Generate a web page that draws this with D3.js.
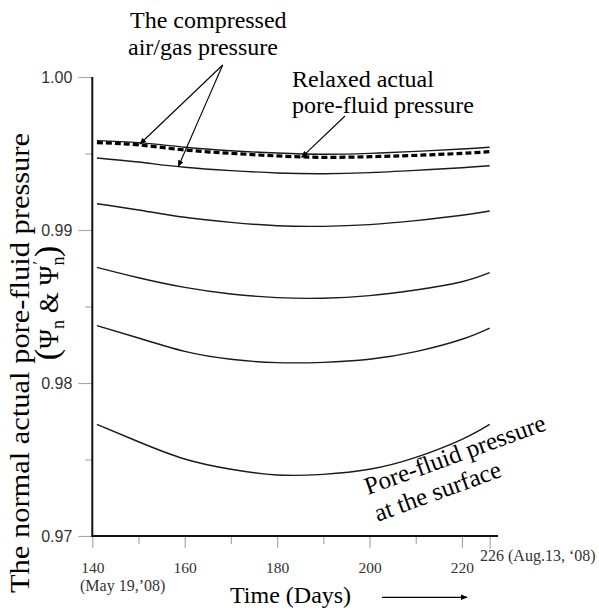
<!DOCTYPE html>
<html>
<head>
<meta charset="utf-8">
<script src="https://cdn.jsdelivr.net/npm/d3@7/dist/d3.min.js"></script>
<style>
  html, body { margin: 0; padding: 0; background: #fff; }
  svg { display: block; }
  text { font-family: "Liberation Serif", "Times New Roman", "DejaVu Serif", serif; }
  text.sans, .ysans text { font-family: "Liberation Sans", Arial, "DejaVu Sans", sans-serif; }
</style>
</head>
<body>
<svg id="chart" width="599" height="611"></svg>
<script>
// ---- data ----
const days = [141, 150, 160, 170, 180, 190, 200, 210, 220, 226];
const gasTop   = [0.99584, 0.99571, 0.99541, 0.99518, 0.99503, 0.99495, 0.99501, 0.99514, 0.99529, 0.99541];
const relaxed  = [0.99571, 0.99556, 0.99523, 0.99501, 0.99484, 0.99475, 0.99479, 0.99488, 0.99501, 0.99512];
const depth2   = [0.99471, 0.99444, 0.99410, 0.99388, 0.99373, 0.99368, 0.99375, 0.99390, 0.99407, 0.99420];
const depth3   = [0.99172, 0.99131, 0.99083, 0.99050, 0.99028, 0.99024, 0.99035, 0.99061, 0.99096, 0.99124];
const depth4   = [0.98756, 0.98688, 0.98625, 0.98582, 0.98558, 0.98554, 0.98571, 0.98608, 0.98662, 0.98721];
const depth5   = [0.98375, 0.98294, 0.98207, 0.98155, 0.98133, 0.98135, 0.98155, 0.98205, 0.98286, 0.98359];
const surface  = [0.97730, 0.97616, 0.97503, 0.97436, 0.97399, 0.97403, 0.97436, 0.97514, 0.97632, 0.97730];

const xMajorTicks = [140, 160, 180, 200, 220];
const xMinorTicks = [150, 170, 190, 210];
const xEndTick = 226;
const yMajorTicks = [0.97, 0.98, 0.99, 1.00];
const yMinorTicks = [0.975, 0.985, 0.995];

// ---- layout ----
const svg = d3.select("#chart");
const x = d3.scaleLinear().domain([140, 227.8]).range([92.3, 498]);
const y = d3.scaleLinear().domain([0.97, 1.00]).range([536, 77]);

const tickColor = "#aaa";
const labelColor = "#333";

// y axis minor ticks
const yMinor = svg.append("g").attr("transform", `translate(${x(140)},0)`)
  .call(d3.axisLeft(y).tickValues(yMinorTicks).tickSize(7).tickSizeOuter(0).tickFormat(""));
// y axis major ticks
const yMajor = svg.append("g").attr("class", "ysans").attr("transform", `translate(${x(140)},0)`)
  .call(d3.axisLeft(y).tickValues(yMajorTicks).tickSize(14).tickSizeOuter(0).tickPadding(6)
        .tickFormat(d3.format(".2f")));
[yMinor, yMajor].forEach(g => {
  g.attr("font-family", null).attr("font-size", null);
  g.select(".domain").remove();
  g.selectAll(".tick line").attr("stroke", tickColor).attr("stroke-width", 1.2);
});
yMajor.selectAll(".tick text").attr("font-size", 16).attr("fill", labelColor);

// x axis ticks
const xMinor = svg.append("g").attr("transform", `translate(0,${y(0.97)})`)
  .call(d3.axisBottom(x).tickValues(xMinorTicks).tickSize(8).tickSizeOuter(0).tickFormat(""));
const xMajor = svg.append("g").attr("transform", `translate(0,${y(0.97)})`)
  .call(d3.axisBottom(x).tickValues(xMajorTicks).tickSize(12).tickSizeOuter(0).tickPadding(14)
        .tickFormat(d3.format("d")));
const xEnd = svg.append("g").attr("transform", `translate(0,${y(0.97)})`)
  .call(d3.axisBottom(x).tickValues([xEndTick]).tickSize(13).tickSizeOuter(0).tickFormat(""));
[xMinor, xMajor, xEnd].forEach(g => {
  g.attr("font-family", null).attr("font-size", null);
  g.select(".domain").remove();
  g.selectAll(".tick line").attr("stroke", tickColor).attr("stroke-width", 1.2);
});
xMajor.selectAll(".tick text").attr("font-size", 15.5).attr("fill", labelColor);

// axis lines
svg.append("line").attr("x1", x(140)).attr("x2", x(140)).attr("y1", y(1.0)).attr("y2", y(0.97) + 1)
  .attr("stroke", "#111").attr("stroke-width", 2);
svg.append("line").attr("x1", x(140) - 1).attr("x2", x(227.8)).attr("y1", y(0.97)).attr("y2", y(0.97))
  .attr("stroke", "#111").attr("stroke-width", 2);

// ---- curves ----
const line = d3.line().x(d => x(d[0])).y(d => y(d[1])).curve(d3.curveNatural);
const zipDays = vals => days.map((d, i) => [d, vals[i]]);

[gasTop, depth2, depth3, depth4, depth5, surface].forEach(vals => {
  svg.append("path").datum(zipDays(vals)).attr("d", line)
    .attr("fill", "none").attr("stroke", "#1a1a1a").attr("stroke-width", 1.4);
});
svg.append("path").datum(zipDays(relaxed)).attr("d", line)
  .attr("fill", "none").attr("stroke", "#000").attr("stroke-width", 3.2)
  .attr("stroke-dasharray", "6,3");

// ---- arrows ----
const defs = svg.append("defs");
defs.append("marker").attr("id", "ah").attr("viewBox", "0 0 10 10")
  .attr("refX", 9).attr("refY", 5).attr("markerWidth", 7).attr("markerHeight", 7)
  .attr("markerUnits", "userSpaceOnUse").attr("orient", "auto")
  .append("path").attr("d", "M0,1 L10,5 L0,9 Z").attr("fill", "#000");

const arrows = [
  { from: [222.7, 65], to: [x(150.3), y(0.99562)] },
  { from: [222.7, 65], to: [x(158.6), y(0.99414)] },
  { from: [345, 116], to: [x(185.3), y(0.99475)] }
];
arrows.forEach(a => {
  svg.append("line").attr("x1", a.from[0]).attr("y1", a.from[1])
    .attr("x2", a.to[0]).attr("y2", a.to[1])
    .attr("stroke", "#000").attr("stroke-width", 1.1).attr("marker-end", "url(#ah)");
});

// ---- texts ----
function txt(t, xx, yy, size, opts = {}) {
  const el = svg.append("text").attr("x", xx).attr("y", yy)
    .attr("font-size", size).attr("fill", opts.fill || "#000").text(t);
  if (opts.anchor) el.attr("text-anchor", opts.anchor);
  if (opts.transform) el.attr("transform", opts.transform);
  return el;
}
txt("The compressed", 130, 28, 24);
txt("air/gas pressure", 128, 54.5, 24);
txt("Relaxed actual", 292, 87, 24);
txt("pore-fluid pressure", 292, 113, 24);

// rotated surface label
const ang = -20;
txt("Pore-fluid pressure", 0, 0, 25, { transform: `translate(368,495) rotate(${ang})` });
txt("at the surface", 0, 0, 25, { transform: `translate(377.7,521.8) rotate(${ang})` });

// x labels
txt("(May 19,\u201908)", 80, 590.5, 16, { fill: labelColor });
txt("226 (Aug.13, \u201808)", 480, 560.5, 16, { fill: labelColor });
txt("Time (Days)", 230, 603, 24);
svg.append("line").attr("x1", 382).attr("y1", 597.3).attr("x2", 467).attr("y2", 597.3)
  .attr("stroke", "#000").attr("stroke-width", 1.2).attr("marker-end", "url(#ah)");

// y title
txt("The normal actual pore-fluid pressure", 0, 0, 28,
    { anchor: "middle", transform: "translate(28.5,363) rotate(-90)" })
  .attr("textLength", 460).attr("lengthAdjust", "spacingAndGlyphs");

const t2 = svg.append("text").attr("text-anchor", "middle")
  .attr("transform", "translate(58,303) rotate(-90)").attr("fill", "#000");
t2.append("tspan").attr("font-size", 34).text("(");
t2.append("tspan").attr("font-size", 27).text("\u03A8");
t2.append("tspan").attr("font-size", 18).attr("dy", 6).text("n");
t2.append("tspan").attr("font-size", 27).attr("dy", -6).text(" & \u03A8");
t2.append("tspan").attr("font-size", 18).attr("dy", 6).text("n");
t2.append("tspan").attr("font-size", 16).attr("dy", -20).attr("dx", -8).text("\u2032");
t2.append("tspan").attr("font-size", 34).attr("dy", 14).attr("dx", 4).text(")");
</script>
</body>
</html>
